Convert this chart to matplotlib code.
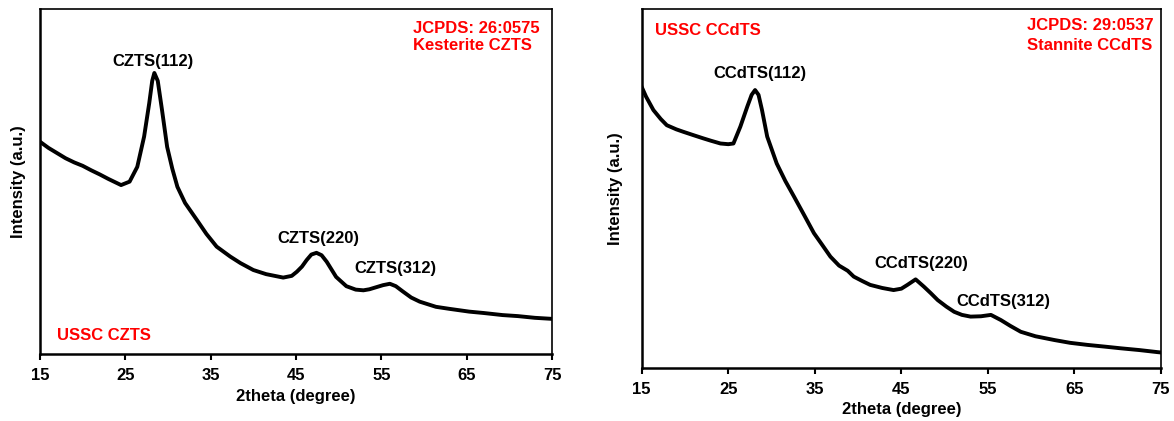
import matplotlib
matplotlib.use("Agg")
import matplotlib.pyplot as plt

plt.rcParams['font.family'] = ['Liberation Sans', 'DejaVu Sans']
plt.rcParams['font.weight'] = 'bold'

# ---- data ----
x_czts = [15, 16, 17, 18, 19, 20, 21, 22, 23, 24, 24.5, 25.5, 26.4, 27.2, 27.8,
          28.15, 28.4, 28.8, 29.3, 29.9, 30.5, 31.1, 32, 33.4, 34.5, 35.7, 37.3,
          38.5, 40, 41.5, 43.5, 44.5, 45.1, 45.7, 46.25, 46.8, 47.4, 48, 48.6,
          49.7, 50.9, 52, 52.9, 53.6, 54.4, 55.2, 56, 56.7, 57.5, 58.5, 59.5,
          61.4, 63, 65.3, 67, 69.2, 71, 73, 75]
y_czts = [62.3, 60.5, 59, 57.5, 56.3, 55.3, 54, 52.8, 51.5, 50.3, 49.7, 50.7, 55,
          63.8, 73.5, 80, 82.3, 80, 71.5, 60.8, 54.5, 49.2, 44.5, 39.5, 35.5,
          31.8, 28.9, 27, 25, 23.8, 22.8, 23.3, 24.5, 26, 27.9, 29.5, 30, 29.3,
          27.4, 23, 20.3, 19.3, 19.1, 19.4, 20, 20.6, 21, 20.3, 18.8, 17, 15.8,
          14.3, 13.7, 12.9, 12.5, 11.9, 11.6, 11.1, 10.8]

x_ccdts = [15, 15.5, 16.35, 17.2, 17.9, 19, 19.8, 21, 22.1, 23, 24.1, 25, 25.6,
           26.4, 27.2, 27.7, 28.1, 28.5, 28.9, 29.5, 30.6, 31.6, 32.6, 33.8,
           34.9, 35.8, 36.8, 37.8, 38.8, 39.5, 40.5, 41.4, 42.8, 44.1, 45, 45.7,
           46.65, 47.6, 48.4, 49.2, 50.2, 51.1, 52, 53, 54.2, 55.35, 56.5, 57.6,
           58.8, 60.5, 62.7, 64.5, 66.5, 68.5, 70.4, 72.5, 74.6, 75]
y_ccdts = [78.3, 75.5, 71.6, 69, 67.2, 66, 65.3, 64.3, 63.4, 62.7, 61.9, 61.7,
           61.9, 66.8, 72.6, 76, 77.4, 76, 71.6, 63.9, 56.1, 51, 46.5, 41, 35.9,
           32.7, 29.1, 26.5, 25, 23.3, 22, 20.9, 20, 19.4, 19.8, 20.9, 22.5, 20.4,
           18.5, 16.5, 14.6, 13.1, 12.2, 11.7, 11.8, 12.2, 10.7, 9, 7.3, 6, 4.9,
           4.1, 3.5, 3, 2.5, 2, 1.4, 1.3]

xticks = [15, 25, 35, 45, 55, 65, 75]

czts_peaks = ["CZTS(112)", "CZTS(220)", "CZTS(312)"]
czts_peak_x = [28.2, 47.6, 56.6]
czts_peak_y = [85.5, 34.2, 25.5]

ccdts_peaks = ["CCdTS(112)", "CCdTS(220)", "CCdTS(312)"]
ccdts_peak_x = [28.7, 47.35, 56.8]
ccdts_peak_y = [82.2, 27.0, 16.2]

left_sample = "USSC CZTS"
left_ref = ["JCPDS: 26:0575", "Kesterite CZTS"]
right_sample = "USSC CCdTS"
right_ref = ["JCPDS: 29:0537", "Stannite CCdTS"]

# ---- figure ----
W, H = 1174, 421
fig = plt.figure(figsize=(W / 100, H / 100), dpi=100)

ax1 = fig.add_axes([40 / W, 1 - 354 / H, 512 / W, 345 / H])
ax2 = fig.add_axes([641.7 / W, 1 - 368 / H, 519.3 / W, 359 / H])

FS = 12
RED = '#FF0000'


def style(ax, ylim, ylab_x, xlab_y):
    ax.set_xlim(15, 75)
    ax.set_ylim(*ylim)
    ax.set_xticks(xticks)
    ax.set_xticklabels([str(t) for t in xticks], fontsize=FS, fontweight='bold')
    ax.set_yticks([])
    ax.tick_params(axis='x', direction='out', length=4, width=1.5, pad=6)
    for s in ['left', 'bottom']:
        ax.spines[s].set_linewidth(1.8)
    for s in ['top', 'right']:
        ax.spines[s].set_linewidth(1.2)
    ax.set_xlabel("2theta (degree)", fontsize=FS, fontweight='bold')
    ax.set_ylabel("Intensity (a.u.)", fontsize=FS, fontweight='bold')
    ax.yaxis.set_label_coords(ylab_x, 0.5)
    ax.xaxis.set_label_coords(0.5, xlab_y)


# left panel
ax1.plot(x_czts, y_czts, color='black', lw=2.8, solid_joinstyle='round')
style(ax1, (0.58, 100.9), -0.027, -0.101)
for t, px, py in zip(czts_peaks, czts_peak_x, czts_peak_y):
    ax1.text(px, py, t, ha='center', va='center', fontsize=FS, fontweight='bold')
ax1.text(17.0, 6.1, left_sample, color=RED, ha='left', va='center',
         fontsize=FS, fontweight='bold')
ax1.text(58.7, 95.3, left_ref[0], color=RED, ha='left', va='center',
         fontsize=FS, fontweight='bold')
ax1.text(58.7, 90.2, left_ref[1], color=RED, ha='left', va='center',
         fontsize=FS, fontweight='bold')

# right panel
ax2.plot(x_ccdts, y_ccdts, color='black', lw=2.8, solid_joinstyle='round')
style(ax2, (-3.2, 100.9), -0.036, -0.095)
for t, px, py in zip(ccdts_peaks, ccdts_peak_x, ccdts_peak_y):
    ax2.text(px, py, t, ha='center', va='center', fontsize=FS, fontweight='bold')
ax2.text(16.5, 94.8, right_sample, color=RED, ha='left', va='center',
         fontsize=FS, fontweight='bold')
ax2.text(59.5, 96.2, right_ref[0], color=RED, ha='left', va='center',
         fontsize=FS, fontweight='bold')
ax2.text(59.5, 90.4, right_ref[1], color=RED, ha='left', va='center',
         fontsize=FS, fontweight='bold')

fig.savefig("out.png", dpi=100)
